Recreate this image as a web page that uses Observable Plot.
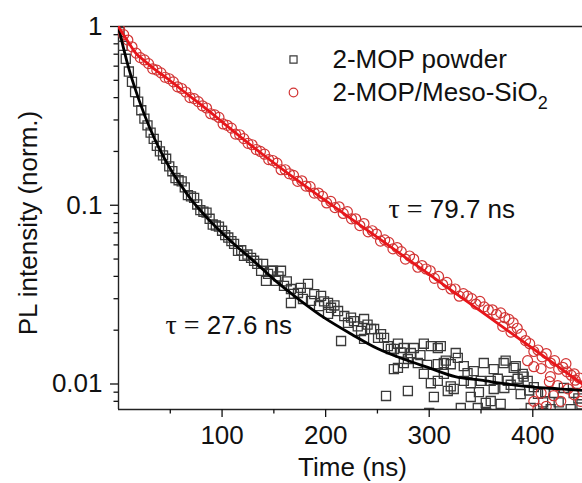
<!DOCTYPE html>
<html>
<head>
<meta charset="utf-8">
<script src="https://cdn.jsdelivr.net/npm/d3@7"></script>
<script src="https://cdn.jsdelivr.net/npm/@observablehq/plot@0.6"></script>
<style>
  html, body { margin: 0; padding: 0; background: #fff; }
  #chart svg { display: block; }
</style>
</head>
<body>
<div id="chart"></div>
<script>
// ---- Data ----
const seriesNames = ["2-MOP powder", "2-MOP/Meso-SiO₂"];
const lifetimeLabels = ["τ = 27.6 ns", "τ = 79.7 ns"];

const xDomain = [0, 448];
const yDomain = [0.0072, 1];
const xTicks = [100, 200, 300, 400];
const xTickLabels = ["100", "200", "300", "400"];
const xMinorTicks = [50, 150, 250, 350];
const yTicks = [0.01, 0.1, 1];
const yTickLabels = ["0.01", "0.1", "1"];
const yMinorTicks = [0.008, 0.009, 0.02, 0.03, 0.04, 0.05, 0.06, 0.07, 0.08, 0.09,
                     0.2, 0.3, 0.4, 0.5, 0.6, 0.7, 0.8, 0.9];

// 2-MOP powder: [time (ns), PL intensity]
const powderPoints = [
  [1,0.93],[4,0.78],[7,0.66],[10,0.56],[13,0.49],[16,0.43],[19,0.38],[22,0.34],[25,0.305],[28,0.28],
  [31,0.255],[34,0.235],[37,0.215],[40,0.20],[43,0.19],[46,0.182],[49,0.165],[52,0.155],[55,0.142],[58,0.138],
  [61,0.136],[64,0.126],[67,0.114],[70,0.112],[73,0.110],[76,0.101],[79,0.094],[82,0.092],[85,0.091],[88,0.084],
  [91,0.078],[94,0.077],[97,0.076],[100,0.072],[103,0.068],[106,0.066],[109,0.063],
  [111.6,0.0608],[115.4,0.0556],[118.5,0.0560],[121.2,0.0521],[124.5,0.0530],[128,0.0508],[130.9,0.0489],
  [134,0.0470],[137.7,0.0430],[139.6,0.0470],[142.4,0.0378],[144.4,0.0413],[147.3,0.0430],[149.2,0.0430],
  [152,0.0378],[154.5,0.0400],[156.9,0.0430],[159.8,0.0354],[162.5,0.0375],[166.5,0.0340],[166.5,0.0284],
  [169.4,0.0319],[173.3,0.0323],[176,0.0345],[178.1,0.0299],[183,0.0363],[185.9,0.0292],[189,0.0318],
  [193.6,0.0273],[195.6,0.0311],[198.5,0.0290],[202.3,0.0284],[202.3,0.0247],[205.2,0.0267],[208.5,0.0275],
  [212,0.0256],[214.9,0.0174],[218,0.0240],[221.6,0.0220],[224.5,0.0235],[227.4,0.0225],[231,0.0210],
  [234.2,0.0198],[237.1,0.0231],[237.1,0.0179],[240.5,0.0215],[243.9,0.0203],[246.8,0.0203],[250.6,0.0181],
  [253.5,0.0190],[256.4,0.0181],[258.3,0.00857],[260.1,0.0163],[263,0.0157],[265.9,0.0157],[265.9,0.0121],
  [269.8,0.0168],[269.8,0.0123],[272.5,0.0150],[275.5,0.0159],[275.5,0.0131],[279.4,0.0138],[279.4,0.00914],
  [282.3,0.0149],[285.2,0.0159],[289,0.0131],[291.5,0.0145],[294.8,0.0168],[294.8,0.0114],[298,0.0128],
  [300,0.0069],[301.6,0.0163],[301.6,0.0101],[304.5,0.00846],[308.3,0.0159],[308.3,0.0129],[308.3,0.0104],
  [311.2,0.0163],[314.1,0.0131],[314.1,0.0114],[316,0.0135],[317.9,0.00914],[320.8,0.0129],[320.8,0.0097],
  [323.7,0.00938],[325.6,0.0149],[327.6,0.0140],[330.5,0.00734],[333.4,0.0104],[333.4,0.0126],[337,0.0115],
  [340.1,0.0101],[340.1,0.00846],[343,0.0118],[346.9,0.00734],[348,0.0090],[349.8,0.0104],[352.7,0.0131],
  [354.6,0.00783],[355,0.0069],[359.4,0.0104],[359.4,0.00803],[362.3,0.0121],[362.3,0.00938],[366.2,0.0107],
  [369,0.00773],[371.9,0.0131],[372.5,0.0095],[373.8,0.0135],[375.8,0.0104],[378.7,0.0099],[381.6,0.0123],
  [383.5,0.0126],[385.4,0.0107],[388.3,0.00879],[390.3,0.0114],[391.2,0.0110],[392,0.0068],[395.1,0.0104],
  [396.5,0.0092],[398,0.00734],[401,0.0096],[405,0.0088],[410,0.0079],[410,0.0069],[412,0.0090],
  [417.3,0.00724],[420.2,0.00891],[425,0.0079],[428,0.0068],[430,0.0095],[436.6,0.00724],[439.5,0.00891],
  [444,0.0083],[447,0.0077]
];

// 2-MOP/Meso-SiO2: [time (ns), PL intensity]
const mesoPoints = [
  [1,0.97],[5,0.90],[9,0.84],[13,0.77],[17,0.71],[21,0.67],[25,0.65],[29,0.62],[33,0.58],[37,0.57],
  [41,0.55],[45,0.52],[49,0.51],[53,0.49],[57,0.46],[61,0.45],[65,0.43],[69,0.40],[73,0.395],[77,0.38],
  [81,0.36],[85,0.35],[89,0.325],[93,0.32],[97,0.31],[101,0.285],[105,0.28],[109,0.27],[113,0.25],[117,0.248],
  [121,0.236],[125,0.222],[129,0.218],[133,0.205],[137,0.20],[141,0.193],[145,0.18],[149,0.178],[153,0.172],[157,0.158],
  [161,0.158],[165,0.150],[169,0.147],[173,0.136],[177,0.137],[181,0.128],[185,0.127],[189,0.117],[193,0.117],[197,0.112],
  [201,0.103],[205,0.105],[209,0.097],[213,0.098],[217,0.090],[221,0.092],[225,0.084],[229,0.084],[233,0.077],[237,0.079],
  [241,0.071],[245,0.072],[249,0.069],[253,0.063],[257,0.064],[261,0.062],[265,0.057],[269,0.058],[273,0.055],[277,0.050],
  [281,0.052],[285,0.050],[289,0.045],[293,0.046],[297,0.044],[301,0.043],[305,0.039],[309,0.040],[313,0.036],[317,0.037],
  [321,0.034],[325,0.034],[329,0.031],[333,0.032],[337,0.031],[341,0.030],[345,0.028],[349,0.029],[353,0.027],[357,0.026],
  [361,0.026],[365,0.0245],[369,0.025],[371,0.021],[373,0.0235],[377,0.023],[379,0.0195],[381,0.022],[385,0.0205],[389,0.019],
  [393,0.0175],[397,0.0168],[401,0.0152],[405,0.0155],[409,0.0142],[413,0.0148],[417,0.0131],[421,0.0135],[425,0.0121],[429,0.0124],
  [433,0.0117],[437,0.0112],[441,0.0105],[445,0.0108],
  [395,0.0135],[401,0.0125],[408,0.0122],[416,0.0103],[417,0.0110],[424,0.0098],[432,0.0130],[434,0.0094],[440,0.0114],
  [443,0.0100],[408,0.0089],[420,0.0086],[401,0.0080],[405,0.0073],[413,0.0075],[427,0.0080],[440,0.0087],[446,0.0080]
];

// Fit curves: [time (ns), PL intensity]
const powderFit = [
  [0,1.0],[5,0.750],[10,0.582],[15,0.468],[20,0.385],[30,0.272],[40,0.204],[50,0.160],[60,0.130],[70,0.108],
  [80,0.0923],[90,0.0798],[100,0.0700],[115,0.0582],[130,0.0490],[150,0.0385],[175,0.0295],[200,0.0232],
  [225,0.0190],[250,0.0158],[275,0.0138],[300,0.0123],[325,0.0110],[350,0.0105],[375,0.0100],[400,0.0096],
  [425,0.0094],[448,0.0092]
];
const mesoFit = [
  [0,1.0],[5,0.895],[10,0.809],[17,0.706],[25,0.643],[35,0.575],[46,0.518],[60,0.447],[78,0.371],[100,0.293],
  [121,0.233],[140,0.191],[160,0.156],[200,0.106],[250,0.0661],[300,0.0410],[350,0.0255],[400,0.0158],[448,0.0100]
];

// ---- Styling ----
const FONT = "'Liberation Sans', Arial, Helvetica, sans-serif";
const SERIF = "'Liberation Serif', 'Times New Roman', serif";
const BLACK_MARK = "#3a3a3a";
const RED_MARK = "#d23434";
const RED_LINE = "#e8161b";
const AXIS = "#222";

const chart = Plot.plot({
  width: 582,
  height: 483,
  marginLeft: 118,
  marginRight: 0,
  marginTop: 26,
  marginBottom: 74,
  x: {domain: xDomain},
  y: {type: "log", domain: yDomain},
  style: {fontFamily: FONT, fontSize: "26px", color: "#111", background: "#fff", overflow: "visible"},
  marks: [
    // frame lines
    Plot.ruleX([xDomain[0]], {stroke: AXIS, strokeWidth: 1.4}),
    Plot.ruleY([yDomain[0]], {stroke: AXIS, strokeWidth: 1.4}),
    Plot.ruleY([yDomain[1]], {stroke: AXIS, strokeWidth: 1.4}),
    // axes
    Plot.axisX(xTicks, {tickSize: 8, tickPadding: 8, strokeWidth: 1.3,
      tickFormat: d => xTickLabels[xTicks.indexOf(d)], label: null, fontSize: 26}),
    Plot.axisX(xMinorTicks, {tickSize: 4.5, strokeWidth: 1.3, tickFormat: () => "", label: null}),
    Plot.axisY(yTicks, {tickSize: 8, tickPadding: 8, strokeWidth: 1.3,
      tickFormat: d => yTickLabels[yTicks.indexOf(d)], label: null, fontSize: 26}),
    Plot.axisY(yMinorTicks, {tickSize: 4.5, strokeWidth: 1.3, tickFormat: () => "", label: null}),
    // data
    Plot.dot(powderPoints, {x: d => d[0], y: d => d[1], symbol: "square", r: 5.1,
      stroke: BLACK_MARK, strokeWidth: 1.3, fill: "none", clip: true}),
    Plot.dot(mesoPoints, {x: d => d[0], y: d => d[1], symbol: "circle", r: 5,
      stroke: RED_MARK, strokeWidth: 1.2, fill: "none", clip: true}),
    Plot.line(powderFit, {x: d => d[0], y: d => d[1], stroke: "#000", strokeWidth: 2.8,
      curve: "monotone-x", clip: true}),
    Plot.line(mesoFit, {x: d => d[0], y: d => d[1], stroke: RED_LINE, strokeWidth: 2.8,
      curve: "monotone-x", clip: true}),
    // legend
    Plot.dot([seriesNames[0]], {frameAnchor: "top-left", dx: 175, dy: 33, symbol: "square", r: 4,
      stroke: BLACK_MARK, strokeWidth: 1.2, fill: "none"}),
    Plot.dot([seriesNames[1]], {frameAnchor: "top-left", dx: 175, dy: 66, symbol: "circle", r: 4.3,
      stroke: RED_MARK, strokeWidth: 1.2, fill: "none"}),
    Plot.text([seriesNames[0]], {text: d => d, frameAnchor: "top-left", dx: 214, dy: 41,
      textAnchor: "start", lineAnchor: "bottom", fontSize: 26, fill: "#111"}),
    Plot.text([seriesNames[1]], {text: d => d, frameAnchor: "top-left", dx: 214, dy: 74,
      textAnchor: "start", lineAnchor: "bottom", fontSize: 26, fill: "#111"}),
    // lifetime annotations
    Plot.text([lifetimeLabels[0]], {text: d => d, frameAnchor: "top-left", dx: 47, dy: 307,
      textAnchor: "start", lineAnchor: "bottom", fontSize: 26, fill: "#111"}),
    Plot.text([lifetimeLabels[1]], {text: d => d, frameAnchor: "top-left", dx: 270, dy: 191,
      textAnchor: "start", lineAnchor: "bottom", fontSize: 26, fill: "#111"}),
    // axis titles
    Plot.text(["Time (ns)"], {text: d => d, frameAnchor: "bottom", dx: 2, dy: 66,
      lineAnchor: "bottom", fontSize: 26, fill: "#111"}),
    Plot.text(["PL intensity (norm.)"], {text: d => d, frameAnchor: "left", dx: -82, dy: 5,
      rotate: -90, textAnchor: "middle", lineAnchor: "bottom", fontSize: 26, fill: "#111"})
  ]
});

document.getElementById("chart").appendChild(chart);

// Rich text: subscript in SiO2 and serif tau/equals sign
chart.querySelectorAll("text").forEach(t => {
  const s = t.textContent;
  if (s === seriesNames[1]) {
    t.innerHTML = "2-MOP/Meso-SiO<tspan dy='8' font-size='18'>2</tspan>";
  } else if (lifetimeLabels.includes(s)) {
    const rest = s.replace(/^τ =\s*/, "");
    t.innerHTML = "<tspan font-family=\"" + SERIF + "\" font-size='28'>τ =</tspan> " + rest;
  }
});
</script>
</body>
</html>
